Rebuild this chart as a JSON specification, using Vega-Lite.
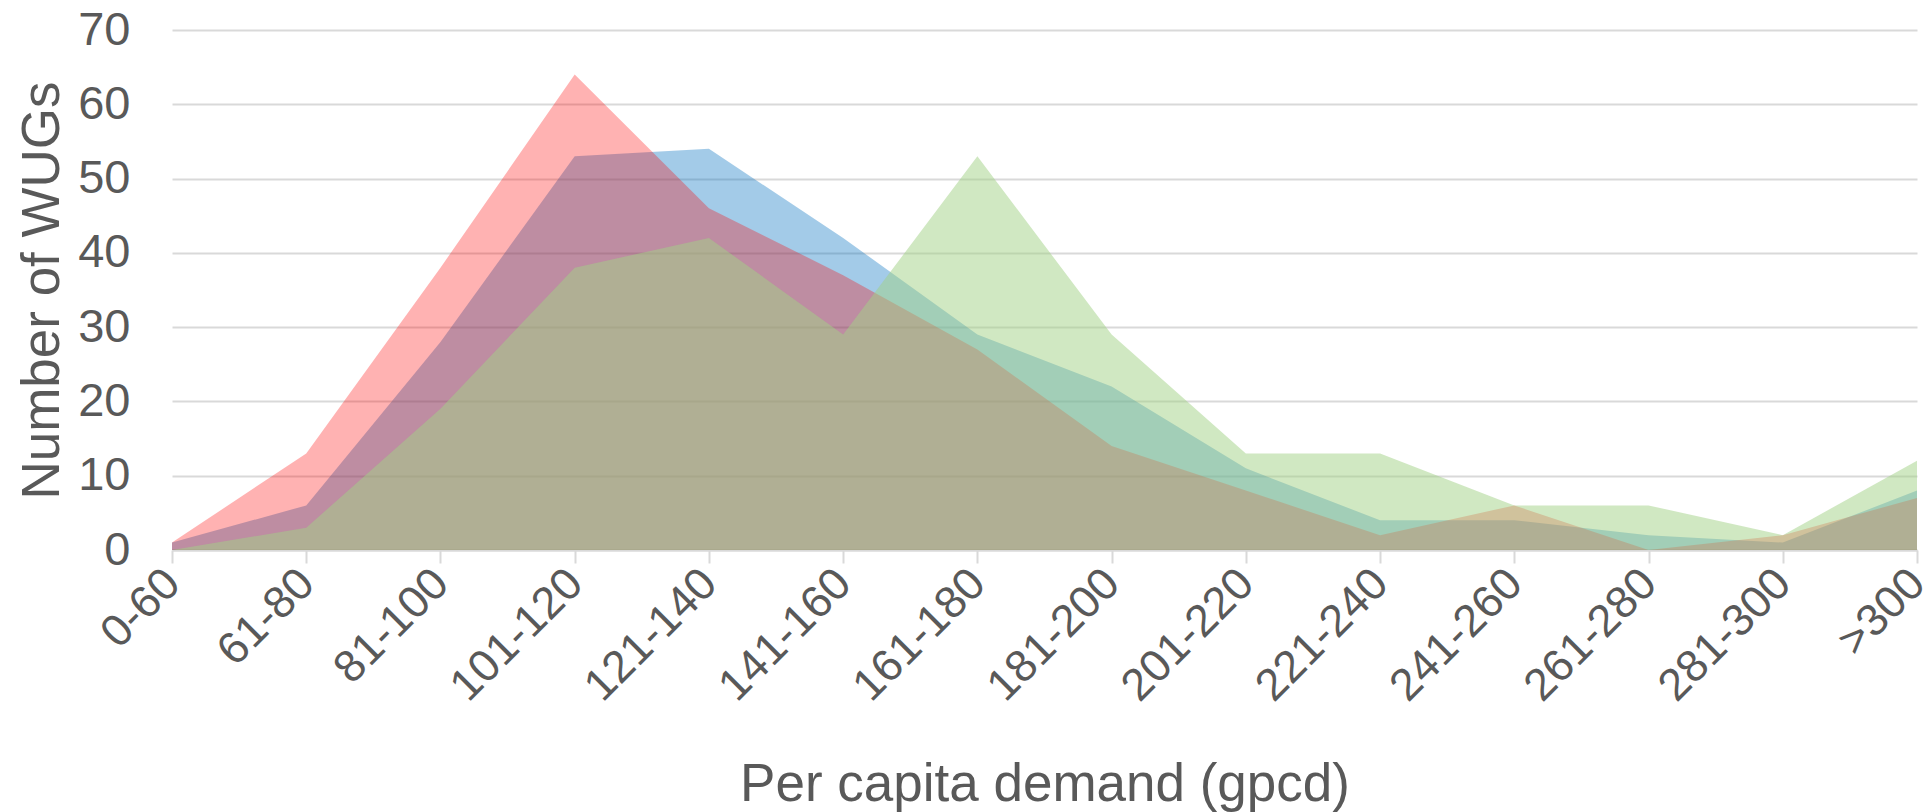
{
  "$schema": "https://vega.github.io/schema/vega-lite/v6.json",
  "width": 1745,
  "height": 520,
  "autosize": {"type": "none"},
  "padding": {"left": 172, "top": 30, "right": 14, "bottom": 262},
  "background": "white",
  "config": {
    "view": {"stroke": null},
    "font": "Liberation Sans",
    "axis": {
      "labelFont": "Liberation Sans",
      "titleFont": "Liberation Sans",
      "labelColor": "#595959",
      "titleColor": "#595959",
      "labelFontSize": 45,
      "titleFontSize": 53,
      "titleFontWeight": "normal"
    }
  },
  "data": {
    "values": [
      {"cat": "0-60", "series": "A", "value": 1},
      {"cat": "61-80", "series": "A", "value": 13},
      {"cat": "81-100", "series": "A", "value": 38},
      {"cat": "101-120", "series": "A", "value": 64},
      {"cat": "121-140", "series": "A", "value": 46},
      {"cat": "141-160", "series": "A", "value": 37},
      {"cat": "161-180", "series": "A", "value": 27},
      {"cat": "181-200", "series": "A", "value": 14},
      {"cat": "201-220", "series": "A", "value": 8},
      {"cat": "221-240", "series": "A", "value": 2},
      {"cat": "241-260", "series": "A", "value": 6},
      {"cat": "261-280", "series": "A", "value": 0},
      {"cat": "281-300", "series": "A", "value": 2},
      {"cat": ">300", "series": "A", "value": 7},
      {"cat": "0-60", "series": "B", "value": 1},
      {"cat": "61-80", "series": "B", "value": 6},
      {"cat": "81-100", "series": "B", "value": 28},
      {"cat": "101-120", "series": "B", "value": 53},
      {"cat": "121-140", "series": "B", "value": 54},
      {"cat": "141-160", "series": "B", "value": 42},
      {"cat": "161-180", "series": "B", "value": 29},
      {"cat": "181-200", "series": "B", "value": 22},
      {"cat": "201-220", "series": "B", "value": 11},
      {"cat": "221-240", "series": "B", "value": 4},
      {"cat": "241-260", "series": "B", "value": 4},
      {"cat": "261-280", "series": "B", "value": 2},
      {"cat": "281-300", "series": "B", "value": 1},
      {"cat": ">300", "series": "B", "value": 8},
      {"cat": "0-60", "series": "C", "value": 0},
      {"cat": "61-80", "series": "C", "value": 3},
      {"cat": "81-100", "series": "C", "value": 19},
      {"cat": "101-120", "series": "C", "value": 38},
      {"cat": "121-140", "series": "C", "value": 42},
      {"cat": "141-160", "series": "C", "value": 29},
      {"cat": "161-180", "series": "C", "value": 53},
      {"cat": "181-200", "series": "C", "value": 29},
      {"cat": "201-220", "series": "C", "value": 13},
      {"cat": "221-240", "series": "C", "value": 13},
      {"cat": "241-260", "series": "C", "value": 6},
      {"cat": "261-280", "series": "C", "value": 6},
      {"cat": "281-300", "series": "C", "value": 2},
      {"cat": ">300", "series": "C", "value": 12}
    ]
  },
  "encoding": {
    "x": {
      "field": "cat",
      "type": "ordinal",
      "sort": ["0-60","61-80","81-100","101-120","121-140","141-160","161-180","181-200","201-220","221-240","241-260","261-280","281-300",">300"],
      "scale": {"type": "point", "padding": 0},
      "axis": {
        "title": "Per capita demand (gpcd)",
        "labelAngle": -45,
        "labelAlign": "right",
        "labelBaseline": "middle",
        "labelPadding": 13,
        "labelOffset": 0,
        "domainColor": "#D9D9D9",
        "domainWidth": 2,
        "tickColor": "#D9D9D9",
        "tickWidth": 2,
        "tickSize": 13,
        "grid": false,
        "titleY": 250,
        "titleBaseline": "alphabetic"
      }
    },
    "y": {
      "field": "value",
      "type": "quantitative",
      "scale": {"domain": [0, 70], "nice": false},
      "axis": {
        "title": "Number of WUGs",
        "values": [0, 10, 20, 30, 40, 50, 60, 70],
        "labelFontSize": 47,
        "domain": false,
        "ticks": false,
        "labelPadding": 42,
        "gridColor": "#D9D9D9",
        "gridWidth": 2,
        "titleX": -114,
        "titleBaseline": "alphabetic"
      }
    }
  },
  "layer": [
    {
      "transform": [{"filter": "datum.series === 'B'"}],
      "mark": {"type": "area", "color": "#0070C0", "fillOpacity": 0.36}
    },
    {
      "transform": [{"filter": "datum.series === 'A'"}],
      "mark": {"type": "area", "color": "#FF0000", "fillOpacity": 0.3}
    },
    {
      "transform": [{"filter": "datum.series === 'C'"}],
      "mark": {"type": "area", "color": "#A1D185", "fillOpacity": 0.5}
    }
  ]
}
